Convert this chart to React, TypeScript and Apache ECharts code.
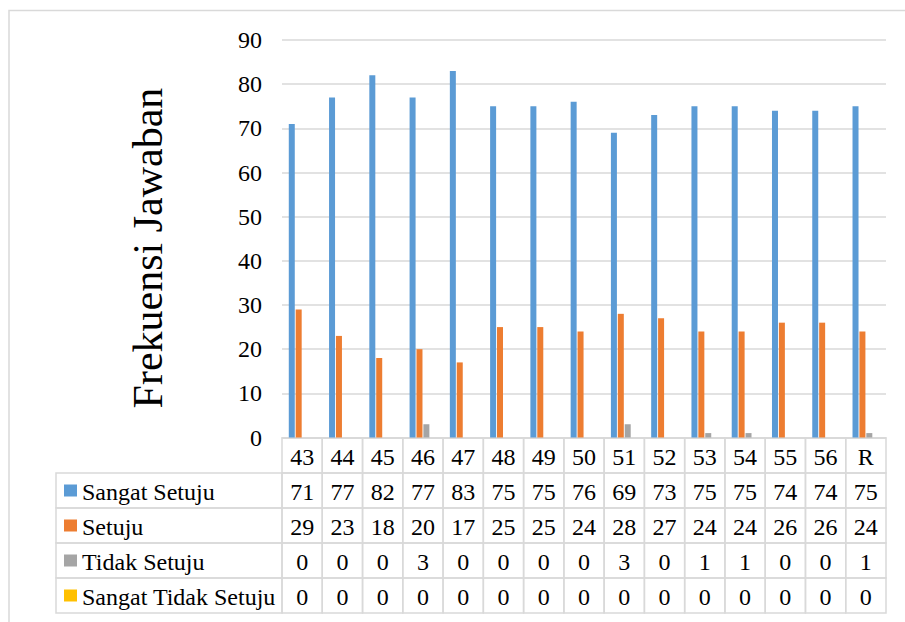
import React, { useEffect, useRef } from "react";
import * as echarts from "echarts";

const categories = ["43", "44", "45", "46", "47", "48", "49", "50", "51", "52", "53", "54", "55", "56", "R"];
const sangatSetuju = [71, 77, 82, 77, 83, 75, 75, 76, 69, 73, 75, 75, 74, 74, 75];
const setuju = [29, 23, 18, 20, 17, 25, 25, 24, 28, 27, 24, 24, 26, 26, 24];
const tidakSetuju = [0, 0, 0, 3, 0, 0, 0, 0, 3, 0, 1, 1, 0, 0, 1];
const sangatTidakSetuju = [0, 0, 0, 0, 0, 0, 0, 0, 0, 0, 0, 0, 0, 0, 0];
const seriesNames = ["Sangat Setuju", "Setuju", "Tidak Setuju", "Sangat Tidak Setuju"];
const seriesColors = ["#5B9BD5", "#ED7D31", "#A5A5A5", "#FFC000"];
const yMin = 0;
const yMax = 90;
const yInterval = 10;
const yTitle = "Frekuensi Jawaban";

const seriesData = [sangatSetuju, setuju, tidakSetuju, sangatTidakSetuju];
const rowLabels = ["", ...seriesNames];

const FONT = "Liberation Serif";
const GRID_LINE = "#D9D9D9";
const LEGEND_W = 226;

export default function App() {
  const ref = useRef<HTMLDivElement>(null);

  useEffect(() => {
    document.body.style.margin = "0";
    if (!ref.current) return;
    const chart = echarts.init(ref.current, null, { renderer: "svg" });

    const tableCells: number[][] = [];
    categories.forEach((_, i) => {
      rowLabels.forEach((__, r) => tableCells.push([i, r]));
    });

    const renderCell = (params: any, api: any) => {
      const i = api.value(0) as number;
      const r = api.value(1) as number;
      const [cx, cy] = api.coord([i, r]);
      const [w, h] = api.size([1, 1]);
      const text = r === 0 ? categories[i] : String(seriesData[r - 1][i]);
      const children: any[] = [
        {
          type: "rect",
          shape: { x: cx - w / 2, y: cy - h / 2, width: w, height: h },
          style: { fill: "none", stroke: GRID_LINE, lineWidth: 1.5 },
        },
        {
          type: "text",
          style: {
            text,
            x: cx,
            y: cy + 1,
            align: "center",
            verticalAlign: "middle",
            fontSize: 24,
            fontFamily: FONT,
            fill: "#000",
          },
        },
      ];
      if (i === 0 && r > 0) {
        const left = cx - w / 2 - LEGEND_W;
        children.push(
          {
            type: "rect",
            shape: { x: left, y: cy - h / 2, width: LEGEND_W, height: h },
            style: { fill: "none", stroke: GRID_LINE, lineWidth: 1.5 },
          },
          {
            type: "rect",
            shape: { x: left + 8, y: cy - 6, width: 13, height: 12 },
            style: { fill: seriesColors[r - 1] },
          },
          {
            type: "text",
            style: {
              text: seriesNames[r - 1],
              x: left + 26,
              y: cy + 1,
              align: "left",
              verticalAlign: "middle",
              fontSize: 24,
              fontFamily: FONT,
              fill: "#000",
            },
          }
        );
      }
      return { type: "group", children };
    };

    chart.setOption({
      animation: false,
      backgroundColor: "#fff",
      textStyle: { fontFamily: FONT },
      grid: [
        { left: 282, right: 19, top: 40, bottom: 184.5 },
        { left: 282, right: 19, top: 438, bottom: 9 },
      ],
      xAxis: [
        {
          type: "category",
          gridIndex: 0,
          data: categories,
          axisLabel: { show: false },
          axisTick: { show: false },
          axisLine: { show: true, lineStyle: { color: GRID_LINE, width: 1.5 } },
        },
        {
          type: "category",
          gridIndex: 1,
          data: categories,
          show: false,
        },
      ],
      yAxis: [
        {
          type: "value",
          gridIndex: 0,
          min: yMin,
          max: yMax,
          interval: yInterval,
          axisLine: { show: false },
          axisTick: { show: false },
          axisLabel: { fontSize: 24, fontFamily: FONT, color: "#000", margin: 20 },
          splitLine: { lineStyle: { color: GRID_LINE, width: 1.5 } },
        },
        {
          type: "category",
          gridIndex: 1,
          data: rowLabels,
          inverse: true,
          show: false,
        },
      ],
      series: [
        ...seriesNames.map((name, k) => ({
          name,
          type: "bar",
          xAxisIndex: 0,
          yAxisIndex: 0,
          data: seriesData[k],
          barWidth: 6,
          barGap: "15%",
          itemStyle: { color: seriesColors[k] },
        })),
        {
          type: "custom",
          xAxisIndex: 1,
          yAxisIndex: 1,
          data: tableCells,
          renderItem: renderCell,
          silent: true,
        },
      ],
      graphic: [
        {
          type: "rect",
          shape: { x: 9, y: 10.5, width: 1200, height: 1200 },
          style: { fill: "none", stroke: GRID_LINE, lineWidth: 1.5 },
          silent: true,
        },
        {
          type: "text",
          x: 148,
          y: 248,
          rotation: Math.PI / 2,
          style: {
            text: yTitle,
            align: "center",
            verticalAlign: "middle",
            fontSize: 42,
            fontFamily: FONT,
            fill: "#000",
          },
        },
      ],
    });

    return () => chart.dispose();
  }, []);

  return <div ref={ref} style={{ width: 905, height: 622 }} />;
}
